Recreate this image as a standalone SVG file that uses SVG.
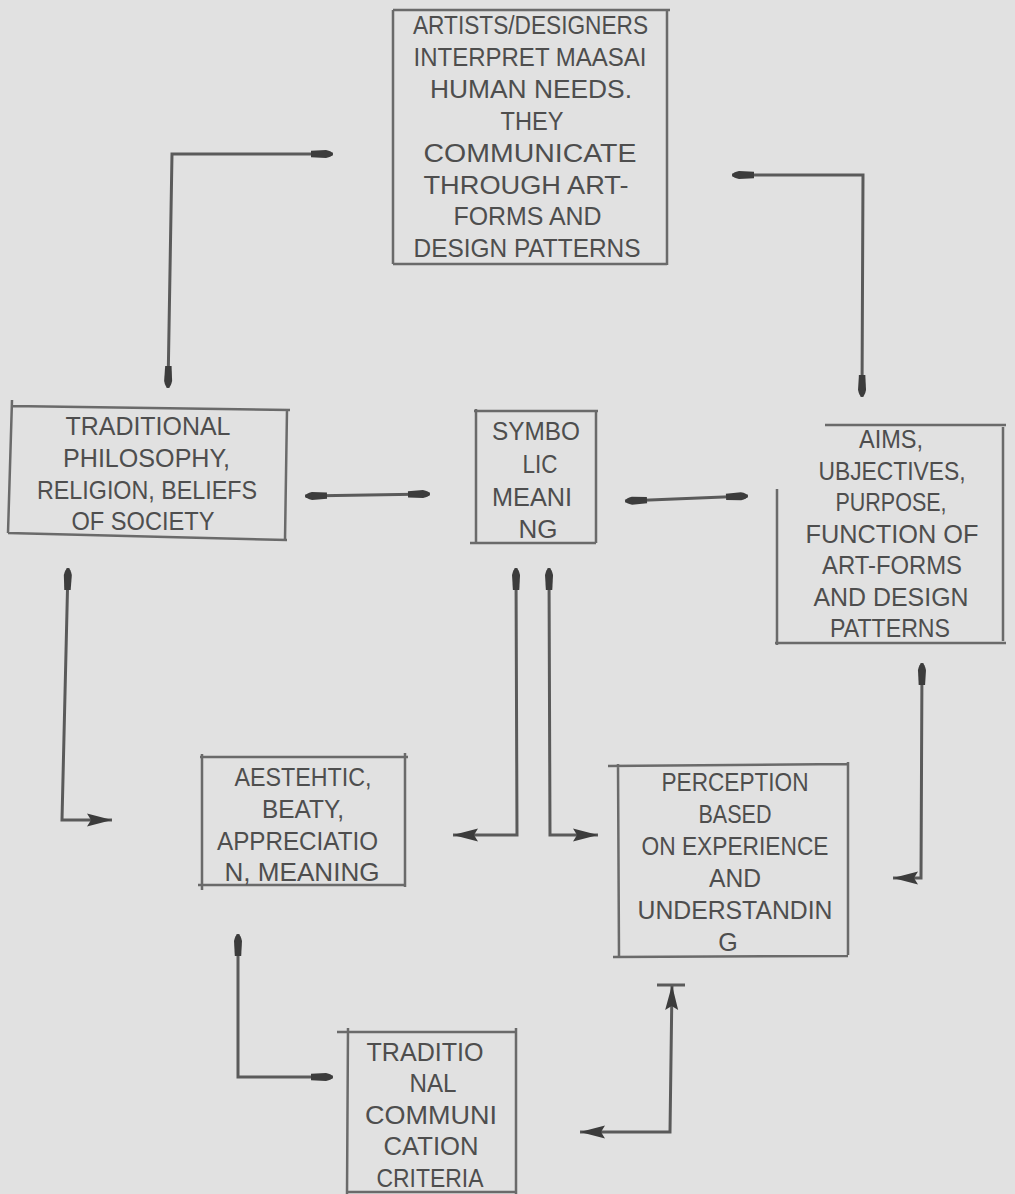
<svg xmlns="http://www.w3.org/2000/svg" width="1015" height="1194" viewBox="0 0 1015 1194">
<style>
.bg{fill:#e1e1e1}
.box{fill:none;stroke:#6a6a6a;stroke-width:2.5}
.t{font-family:"Liberation Sans",Arial,sans-serif;font-size:25px;fill:#4e4e4e;text-anchor:middle}
.c{fill:none;stroke:#5a5a5a;stroke-width:3}
</style>
<defs>
<marker id="blob" markerUnits="userSpaceOnUse" markerWidth="30" markerHeight="14" viewBox="0 0 30 14" refX="24" refY="7" orient="auto-start-reverse" overflow="visible">
<path d="M2,3.8 L17,3 Q23,4.2 24,7 Q23,9.8 17,11 L2,10.2 Z" fill="#3c3c3c"/>
</marker>
<marker id="tri" markerUnits="userSpaceOnUse" markerWidth="30" markerHeight="16" viewBox="0 0 30 16" refX="25" refY="8" orient="auto-start-reverse" overflow="visible">
<path d="M0,1.5 L25,8 L0,14.5 L4,8 Z" fill="#3c3c3c"/>
</marker>
</defs>
<rect class="bg" x="0" y="0" width="1015" height="1194"/>

<g id="connectors">
<path class="c" d="M168,388 L172,154 L333,154" marker-start="url(#blob)" marker-end="url(#blob)"/>
<path class="c" d="M732,175 L863,175 L862,397" marker-start="url(#blob)" marker-end="url(#blob)"/>
<path class="c" d="M305,496 L430,494" marker-start="url(#blob)" marker-end="url(#blob)"/>
<path class="c" d="M625,501 L748,496" marker-start="url(#blob)" marker-end="url(#blob)"/>
<path class="c" d="M68,568 L62,820 L112,820" marker-start="url(#blob)" marker-end="url(#tri)"/>
<path class="c" d="M516,568 L517,835 L453,835" marker-start="url(#blob)" marker-end="url(#tri)"/>
<path class="c" d="M549,568 L550,835 L598,835" marker-start="url(#blob)" marker-end="url(#tri)"/>
<path class="c" d="M922,663 L921,878 L893,878" marker-start="url(#blob)" marker-end="url(#tri)"/>
<path class="c" d="M238,934 L238,1077 L333,1077" marker-start="url(#blob)" marker-end="url(#blob)"/>
<path class="c" d="M672,985 L670,1132 L580,1132" marker-start="url(#tri)" marker-end="url(#tri)"/>
<path class="c" d="M657,985 L685,985"/>
</g>

<g id="node-artists">
<path class="box" d="M393,10 L670,10 M667,10 L667,265 M393,264 L667,264 M393,10 L393,264"/>
<text class="t" x="530.5" y="34" textLength="235" lengthAdjust="spacingAndGlyphs">ARTISTS/DESIGNERS</text>
<text class="t" x="530" y="65.9" textLength="233" lengthAdjust="spacingAndGlyphs">INTERPRET MAASAI</text>
<text class="t" x="531" y="97.8" textLength="202" lengthAdjust="spacingAndGlyphs">HUMAN NEEDS.</text>
<text class="t" x="532" y="129.7" textLength="63" lengthAdjust="spacingAndGlyphs">THEY</text>
<text class="t" x="530" y="161.6" textLength="213" lengthAdjust="spacingAndGlyphs">COMMUNICATE</text>
<text class="t" x="526" y="193.5" textLength="205" lengthAdjust="spacingAndGlyphs">THROUGH ART-</text>
<text class="t" x="527.5" y="225.4" textLength="148" lengthAdjust="spacingAndGlyphs">FORMS AND</text>
<text class="t" x="527" y="257.3" textLength="227" lengthAdjust="spacingAndGlyphs">DESIGN PATTERNS</text>
</g>

<g id="node-traditional">
<path class="box" d="M11,406 L290,410 M287,410 L285,540 M8,533 L287,540 M12,400 L8,533"/>
<text class="t" x="148" y="435" textLength="165" lengthAdjust="spacingAndGlyphs">TRADITIONAL</text>
<text class="t" x="146.5" y="466.5" textLength="167" lengthAdjust="spacingAndGlyphs">PHILOSOPHY,</text>
<text class="t" x="147" y="498.5" textLength="220" lengthAdjust="spacingAndGlyphs">RELIGION, BELIEFS</text>
<text class="t" x="143" y="530" textLength="143" lengthAdjust="spacingAndGlyphs">OF SOCIETY</text>
</g>

<g id="node-symbolic">
<path class="box" d="M474,411 L598,411 M596,411 L596,543 M470,543 L596,543 M476,409 L476,543"/>
<text class="t" x="536" y="439.5" textLength="88" lengthAdjust="spacingAndGlyphs">SYMBO</text>
<text class="t" x="540" y="472.5" textLength="35" lengthAdjust="spacingAndGlyphs">LIC</text>
<text class="t" x="532" y="505.5" textLength="80" lengthAdjust="spacingAndGlyphs">MEANI</text>
<text class="t" x="538" y="538" textLength="39" lengthAdjust="spacingAndGlyphs">NG</text>
</g>

<g id="node-aims">
<path class="box" d="M825,425 L1006,425 M1003,427 L1003,641 M775,643 L1006,643 M777,489 L777,645"/>
<text class="t" x="891" y="448" textLength="64" lengthAdjust="spacingAndGlyphs">AIMS,</text>
<text class="t" x="892" y="479.5" textLength="147" lengthAdjust="spacingAndGlyphs">UBJECTIVES,</text>
<text class="t" x="891" y="511" textLength="111" lengthAdjust="spacingAndGlyphs">PURPOSE,</text>
<text class="t" x="892" y="542.5" textLength="173" lengthAdjust="spacingAndGlyphs">FUNCTION OF</text>
<text class="t" x="892" y="574" textLength="140" lengthAdjust="spacingAndGlyphs">ART-FORMS</text>
<text class="t" x="891" y="605.5" textLength="155" lengthAdjust="spacingAndGlyphs">AND DESIGN</text>
<text class="t" x="890" y="637" textLength="120" lengthAdjust="spacingAndGlyphs">PATTERNS</text>
</g>

<g id="node-aesthetic">
<path class="box" d="M200,757 L408,757 M405,753 L405,887 M198,885 L405,885 M202,754 L202,890"/>
<text class="t" x="303" y="785.5" textLength="137" lengthAdjust="spacingAndGlyphs">AESTEHTIC,</text>
<text class="t" x="303" y="817.5" textLength="82" lengthAdjust="spacingAndGlyphs">BEATY,</text>
<text class="t" x="297.5" y="849.5" textLength="161" lengthAdjust="spacingAndGlyphs">APPRECIATIO</text>
<text class="t" x="302" y="881" textLength="155" lengthAdjust="spacingAndGlyphs">N, MEANING</text>
</g>

<g id="node-perception">
<path class="box" d="M608,766 L848,764 M848,762 L848,955 M613,957 L848,956 M618,764 L619,958"/>
<text class="t" x="735" y="791" textLength="147" lengthAdjust="spacingAndGlyphs">PERCEPTION</text>
<text class="t" x="735" y="823" textLength="73" lengthAdjust="spacingAndGlyphs">BASED</text>
<text class="t" x="735" y="855" textLength="187" lengthAdjust="spacingAndGlyphs">ON EXPERIENCE</text>
<text class="t" x="735" y="887" textLength="52" lengthAdjust="spacingAndGlyphs">AND</text>
<text class="t" x="735" y="919" textLength="195" lengthAdjust="spacingAndGlyphs">UNDERSTANDIN</text>
<text class="t" x="728" y="951">G</text>
</g>

<g id="node-communication">
<path class="box" d="M337,1032 L517,1032 M516,1028 L516,1194 M348,1192 L516,1192 M348,1028 L347,1194"/>
<text class="t" x="425" y="1060.9" textLength="117" lengthAdjust="spacingAndGlyphs">TRADITIO</text>
<text class="t" x="433" y="1092.4" textLength="47" lengthAdjust="spacingAndGlyphs">NAL</text>
<text class="t" x="431" y="1123.9" textLength="132" lengthAdjust="spacingAndGlyphs">COMMUNI</text>
<text class="t" x="431" y="1155.4" textLength="95" lengthAdjust="spacingAndGlyphs">CATION</text>
<text class="t" x="430" y="1186.9" textLength="107" lengthAdjust="spacingAndGlyphs">CRITERIA</text>
</g>
</svg>
